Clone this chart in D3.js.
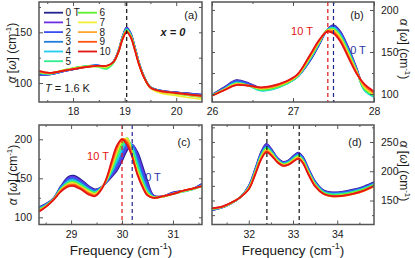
<!DOCTYPE html>
<html>
<head>
<meta charset="utf-8">
<script src="https://cdn.jsdelivr.net/npm/d3@7"></script>
<style>
body { margin: 0; background: #fff; }
svg text { font-family: "Liberation Sans", Arial, sans-serif; fill: #1a1a1a; }
</style>
</head>
<body>
<div id="chart"></div>
<script>

// fields (T) and their colours
var fields = ["0 T", "1", "2", "3", "4", "5", "6", "7", "8", "9", "10"];
var colors = ["#23238f", "#6b2fe6", "#3b4ff0", "#1f7ddc", "#22cdf0", "#2ef08e",
              "#5cf02a", "#eeee35", "#ffa62e", "#ff5412", "#e31414"];

// panel (a)
var freqA = [17.34, 17.55, 17.85, 18.15, 18.45, 18.65, 18.78, 18.88, 18.96, 19.04, 19.12, 19.2, 19.28, 19.38, 19.5, 19.7, 19.95, 20.2, 20.5];
var specA = [
  [108, 108.5, 112, 115, 117.5, 116.5, 121, 132, 146, 155, 149, 135, 120, 106, 96, 92.5, 91, 90, 88.5],
  [108.5, 108.5, 112, 115, 117.5, 116.5, 121, 132, 145.5, 154.5, 148.5, 135, 120, 106, 96, 92.5, 91, 90, 88.5],
  [109, 108.5, 112, 115.5, 117.5, 116, 121, 131.5, 145.5, 154, 148, 134.5, 119.5, 106, 96, 92.5, 91, 89.5, 88],
  [109.5, 109, 112.5, 115.5, 117.5, 115.5, 120.5, 131.5, 145, 153.5, 148, 134.5, 119.5, 106, 96, 92.5, 90.5, 89.5, 88],
  [110, 109, 112.5, 116, 117, 115, 120, 131, 145, 153, 147.5, 134, 119.5, 105.5, 96, 92, 90.5, 89, 87.5],
  [110, 109, 113, 116, 116.5, 114, 119.5, 131, 144.5, 152.5, 147, 134, 119, 105.5, 96, 91.5, 90, 88.5, 87],
  [110.5, 109.5, 113, 116, 116.5, 115, 120, 131, 144.5, 152, 146.5, 133.5, 119, 105.5, 95.5, 91, 89.5, 88, 86],
  [111, 109.5, 113, 115.5, 116.5, 116, 120.5, 131, 144, 151.5, 146, 133, 118.5, 105, 95, 90, 88, 86, 84],
  [111, 110, 112.5, 115.5, 117, 116.5, 120.5, 130.5, 143.5, 151, 145.5, 133, 118.5, 105, 95.5, 91.5, 90, 88.5, 86.5],
  [111.5, 110, 112.5, 115, 117, 117, 120.5, 130.5, 143.5, 150.5, 145, 132.5, 118, 105, 95.5, 92, 90.5, 89, 87],
  [112, 110, 112.5, 115, 117, 117, 120.5, 130.5, 143, 150.5, 145, 132, 118, 105, 95.5, 92, 90.5, 89, 87.5]
];

// panel (b)
var freqB = [26.0, 26.15, 26.3, 26.45, 26.6, 26.75, 26.9, 27.05, 27.2, 27.32, 27.42, 27.5, 27.58, 27.68, 27.78, 27.88, 28.0];
var specB = [
  [99, 108, 116.5, 113, 107, 107.5, 112, 120, 138, 158, 176, 182, 175, 156, 132, 107, 98.5],
  [99, 107.5, 116, 112.5, 106.5, 107, 112, 120, 138.5, 158.5, 176, 181, 174, 155, 131.5, 106.5, 98],
  [99, 107, 115.5, 112, 106, 106.5, 111.5, 120, 139, 159, 176, 180.5, 173, 154, 131, 106, 97.5],
  [98.5, 106.5, 114.5, 111, 105, 106, 111.5, 120, 139.5, 159.5, 176, 179.5, 172, 153, 130, 105, 97],
  [98.5, 106, 113.5, 110, 104, 105.5, 111, 120, 140, 160, 176, 179, 171, 152, 129.5, 104.5, 96.5],
  [98.5, 105.5, 113, 110, 104.5, 106, 111.5, 120.5, 141, 160.5, 176, 178, 170, 151, 129, 105.5, 97.5],
  [98.5, 105.5, 112.5, 110, 105.5, 107, 112, 121, 141.5, 161, 175.5, 177, 169, 150, 128.5, 106.5, 98.5],
  [98, 105, 112, 110, 106.5, 108, 113, 121.5, 142.5, 162, 175.5, 176, 167.5, 148.5, 128, 108, 99.5],
  [98, 105, 111.5, 110, 107, 108.5, 113.5, 122, 143.5, 162.5, 175, 175, 166, 147, 127, 109.5, 100.5],
  [98, 104.5, 111, 110, 107.5, 109, 114, 122.5, 144, 163, 174.5, 173.5, 164.5, 145.5, 126, 111, 101.5],
  [98, 104.5, 110.5, 110, 108, 110, 114.5, 123, 145, 164, 174, 172, 163, 144, 125, 112, 103]
];

// panel (c)
var freqC = [28.37, 28.5, 28.65, 28.8, 28.95, 29.05, 29.2, 29.35, 29.47, 29.6, 29.7, 29.8, 29.9, 30.0, 30.1, 30.2, 30.3, 30.4, 30.5, 30.62, 30.8, 31.0, 31.2, 31.4, 31.57];
var specC = [
  [113, 117, 124, 140, 152, 153.5, 148, 140, 136, 139, 145, 152, 160, 172, 186, 192.5, 184, 166, 146, 128, 127, 132, 134, 137, 143],
  [112.5, 116.5, 124, 139, 150.5, 152, 146.5, 139, 135, 139, 145.5, 153.5, 162.5, 175.5, 189, 193.5, 181, 162, 143, 127.5, 127, 131.5, 134, 137, 142.5],
  [112, 116, 123.5, 138.5, 149, 150.5, 145, 138, 134.5, 139, 146, 155, 165.5, 179, 192, 193, 177.5, 158, 140, 127, 126.5, 131, 133.5, 136.5, 142],
  [111.5, 115.5, 123.5, 138, 147.5, 149, 144, 137, 133.5, 138.5, 146.5, 156.5, 169, 183, 195, 192, 174, 154, 137, 126.5, 126.5, 130.5, 133.5, 136.5, 141.5],
  [111, 115.5, 123, 137, 146.5, 147.5, 142.5, 136, 132.5, 138.5, 147, 158.5, 172.5, 187, 198.5, 190, 170, 150, 134.5, 126, 126.5, 130.5, 133, 136, 141],
  [110.5, 115, 123, 136.5, 145, 146, 141.5, 135, 132, 138, 147.5, 160.5, 176.5, 191, 201, 187.5, 166, 147, 132.5, 126, 126.5, 130, 133, 136, 140.5],
  [110, 114.5, 123, 136, 144, 145, 140, 134, 131, 138, 148, 162.5, 180, 194.5, 201.5, 184.5, 163, 145, 131, 125.5, 126.5, 130, 133.5, 136.5, 140],
  [109, 114, 122.5, 135, 143, 144, 139, 133, 130, 137.5, 148.5, 165, 183.5, 197.5, 200.5, 181.5, 160, 143, 130, 125.5, 126.5, 130, 133.5, 136.5, 140],
  [108.5, 113.5, 122.5, 134.5, 142, 142.5, 138, 131.5, 129, 137.5, 149.5, 167.5, 186.5, 199.5, 198.5, 180, 157.5, 141.5, 129.5, 125, 126.5, 130, 134, 137, 140],
  [108, 113.5, 122, 134, 141, 141.5, 137, 130.5, 128, 137, 150, 170, 189.5, 200.5, 196, 178.5, 156, 140, 128.5, 125, 127, 130, 134, 137, 140],
  [107, 113, 122, 133, 139.5, 140, 135.5, 129, 127, 136, 151, 173, 192, 200, 193, 177, 155, 139, 128, 125, 127, 130, 134, 137, 140]
];

// panel (d)
var freqD = [31.17, 31.4, 31.6, 31.8, 32.0, 32.15, 32.28, 32.4, 32.52, 32.65, 32.78, 32.9, 33.02, 33.12, 33.22, 33.35, 33.5, 33.7, 33.9, 34.1, 34.35, 34.6, 34.83];
var specD = [
  [133, 138, 145, 155, 175, 205, 233, 247, 237, 223, 216, 219, 227, 232, 225, 205, 183, 167, 164, 165, 168.5, 174, 181.5],
  [133.5, 138, 145, 155, 174.5, 204, 231.5, 245.5, 236, 222, 215.5, 218, 226, 231, 224, 204, 182, 166, 163.5, 164, 167.5, 173, 180.5],
  [134, 138.5, 145, 155, 174, 203, 230.5, 244, 235, 221.5, 214.5, 217.5, 225, 230, 223, 203, 181, 165.5, 162.5, 163.5, 167, 172, 179.5],
  [134.5, 138.5, 145.5, 155, 173, 202, 229, 242.5, 233.5, 220.5, 214, 216.5, 224, 228.5, 221.5, 201.5, 180.5, 165, 162, 162.5, 166, 171.5, 179],
  [134.5, 138.5, 145.5, 155, 172.5, 201, 228, 241, 232.5, 220, 213, 216, 223, 227.5, 220.5, 200.5, 179.5, 164, 161, 162, 165, 170.5, 178],
  [135, 138.5, 145.5, 155, 172, 200, 226.5, 240, 231.5, 219, 212.5, 215, 222, 226.5, 219.5, 199.5, 178.5, 163.5, 160, 161, 164.5, 170, 177.5],
  [135.5, 139, 145.5, 155, 171.5, 199, 225, 238.5, 230.5, 218, 212, 214, 221, 225.5, 218.5, 198.5, 177.5, 163, 159, 160, 163.5, 169, 176.5],
  [136, 139, 145.5, 155, 171, 198, 224, 237, 229.5, 217.5, 211, 213.5, 220, 224.5, 217.5, 197.5, 176.5, 161.5, 157.5, 158.5, 162, 167.5, 175],
  [136, 139, 146, 155, 170, 197, 222.5, 235.5, 228, 216.5, 210.5, 212.5, 219, 223, 216, 196, 175.5, 160.5, 156.5, 157.5, 161, 166.5, 174],
  [136.5, 139.5, 146, 155, 169.5, 196, 221, 234, 227, 215.5, 209.5, 211.5, 218, 222, 215, 195, 175, 160.5, 157, 157.5, 161, 166.5, 174.5],
  [137, 139.5, 146, 155, 169, 195, 220, 232.5, 226, 215, 209, 211, 217, 221, 214, 194, 174, 161, 157.5, 158, 161.5, 167, 175]
];

// tick values
var xTicksA = [18, 19, 20], xMinorA = [17.5, 18.5, 19.5];
var yTicksA = [100, 150], yMinorA = [125, 175];
var xTicksB = [26, 27, 28], xMinorB = [26.5, 27.5];
var yTicksB = [100, 150, 200], yMinorB = [125, 175];
var xTicksC = [29, 30, 31], xMinorC = [28.5, 29.5, 30.5, 31.5];
var yTicksC = [100, 150, 200], yMinorC = [125, 175];
var xTicksD = [32, 33, 34], xMinorD = [31.5, 32.5, 33.5, 34.5];
var yTicksD = [150, 200, 250], yMinorD = [125, 175, 225, 275];

// marker lines (frequency, colour)
var marksA = [[19.04, "#111"]];
var marksB = [[27.43, "#e31414"], [27.5, "#23238f"]];
var marksC = [[30.0, "#e31414"], [30.2, "#23238f"]];
var marksD = [[32.41, "#111"], [33.14, "#111"]];

var w = 415, h = 258;
var frameColor = "#555";

var svg = d3.select("#chart").append("svg")
    .attr("width", w)
    .attr("height", h);

var panels = [
  {id: "a", freq: freqA, spec: specA, xd: [17.34, 20.5], yd: [81.3, 179.9], x0: 39, x1: 202, y0: 2, y1: 102,
   xt: xTicksA, xm: xMinorA, yt: yTicksA, ym: yMinorA, side: "left", marks: marksA},
  {id: "b", freq: freqB, spec: specB, xd: [26, 28], yd: [90.5, 209.5], x0: 212, x1: 374, y0: 2, y1: 102,
   xt: xTicksB, xm: xMinorB, yt: yTicksB, ym: yMinorB, side: "right", marks: marksB},
  {id: "c", freq: freqC, spec: specC, xd: [28.37, 31.57], yd: [90.8, 218.3], x0: 39, x1: 202, y0: 125, y1: 224.5,
   xt: xTicksC, xm: xMinorC, yt: yTicksC, ym: yMinorC, side: "left", marks: marksC},
  {id: "d", freq: freqD, spec: specD, xd: [31.17, 34.83], yd: [109, 279], x0: 212, x1: 374, y0: 125, y1: 224.5,
   xt: xTicksD, xm: xMinorD, yt: yTicksD, ym: yMinorD, side: "right", marks: marksD}
];

panels.forEach(function(p) {
  var x = d3.scaleLinear().domain(p.xd).range([p.x0, p.x1]);
  var y = d3.scaleLinear().domain(p.yd).range([p.y1, p.y0]);
  var g = svg.append("g").attr("class", "panel-" + p.id);

  svg.append("clipPath").attr("id", "clip-" + p.id)
    .append("rect")
      .attr("x", p.x0).attr("y", p.y0)
      .attr("width", p.x1 - p.x0).attr("height", p.y1 - p.y0);

  var line = d3.line()
      .x(function(d, i) { return x(p.freq[i]); })
      .y(function(d) { return y(d); })
      .curve(d3.curveCatmullRom.alpha(0.5));

  var curves = g.append("g").attr("clip-path", "url(#clip-" + p.id + ")");
  curves.selectAll("path")
    .data(p.spec)
    .enter()
    .append("path")
      .attr("d", line)
      .attr("fill", "none")
      .attr("stroke", function(d, i) { return colors[i]; })
      .attr("stroke-width", 1.7);

  // dashed marker lines
  g.selectAll("line.mark")
    .data(p.marks)
    .enter()
    .append("line")
      .attr("class", "mark")
      .attr("x1", function(d) { return x(d[0]); })
      .attr("x2", function(d) { return x(d[0]); })
      .attr("y1", p.y0)
      .attr("y2", p.y1)
      .attr("stroke", function(d) { return d[1]; })
      .attr("stroke-width", 1.2)
      .attr("stroke-dasharray", "4,3");

  // axes, ticks pointing inwards on all four sides
  function style(sel) {
    sel.select(".domain").remove();
    sel.selectAll("line").attr("stroke", frameColor).attr("stroke-width", 1);
    sel.selectAll("text").filter(function() { return this.textContent == ""; }).remove();
    sel.selectAll("text").attr("font-size", 10.5).attr("fill", "#1a1a1a")
      .attr("font-family", "Liberation Sans, Arial, sans-serif");
  }

  g.append("g").attr("transform", "translate(0," + p.y1 + ")")
    .call(d3.axisBottom(x).tickValues(p.xt).tickSize(-4).tickPadding(6).tickFormat(d3.format("d")))
    .call(style);
  g.append("g").attr("transform", "translate(0," + p.y1 + ")")
    .call(d3.axisBottom(x).tickValues(p.xm).tickSize(-2).tickFormat(""))
    .call(style);
  g.append("g").attr("transform", "translate(0," + p.y0 + ")")
    .call(d3.axisTop(x).tickValues(p.xt).tickSize(-4).tickFormat(""))
    .call(style);
  g.append("g").attr("transform", "translate(0," + p.y0 + ")")
    .call(d3.axisTop(x).tickValues(p.xm).tickSize(-2).tickFormat(""))
    .call(style);

  var labelled = p.side == "left" ? d3.axisLeft(y) : d3.axisRight(y);
  var lx = p.side == "left" ? p.x0 : p.x1;
  var ox = p.side == "left" ? p.x1 : p.x0;
  g.append("g").attr("transform", "translate(" + lx + ",0)")
    .call(labelled.tickValues(p.yt).tickSize(-4).tickPadding(7).tickFormat(d3.format("d")))
    .call(style);
  g.append("g").attr("transform", "translate(" + lx + ",0)")
    .call((p.side == "left" ? d3.axisLeft(y) : d3.axisRight(y)).tickValues(p.ym).tickSize(-2).tickFormat(""))
    .call(style);
  g.append("g").attr("transform", "translate(" + ox + ",0)")
    .call((p.side == "left" ? d3.axisRight(y) : d3.axisLeft(y)).tickValues(p.yt.concat(p.ym)).tickSize(-3).tickFormat(""))
    .call(style);

  g.append("rect")
    .attr("x", p.x0).attr("y", p.y0)
    .attr("width", p.x1 - p.x0).attr("height", p.y1 - p.y0)
    .attr("fill", "none")
    .attr("stroke", frameColor)
    .attr("stroke-width", 1.5);
});

// y axis titles
function alphaTitle(xpos, ypos, rot) {
  var t = svg.append("text")
    .attr("transform", "translate(" + xpos + "," + ypos + ") rotate(" + rot + ")")
    .attr("text-anchor", "middle")
    .attr("font-size", 12);
  t.append("tspan").attr("font-style", "italic").text("α");
  t.append("tspan").text(" [");
  t.append("tspan").attr("font-style", "italic").text("ω");
  t.append("tspan").text("] (cm");
  t.append("tspan").attr("font-size", 8).attr("dy", -5).text("-1");
  t.append("tspan").attr("dy", 5).text(")");
}
alphaTitle(16, 53, -90);
alphaTitle(17, 175, -90);
alphaTitle(400, 49, 90);
alphaTitle(400, 171, 90);

// x axis titles
function freqTitle(xpos) {
  var t = svg.append("text")
    .attr("x", xpos).attr("y", 255)
    .attr("text-anchor", "middle")
    .attr("font-size", 13.5);
  t.append("tspan").text("Frequency (cm");
  t.append("tspan").attr("font-size", 9).attr("dy", -6).text("-1");
  t.append("tspan").attr("dy", 6).text(")");
}
freqTitle(121);
freqTitle(293);

// panel letters and notes
var notes = [
  ["(a)", 191, 19, "#1a1a1a"], ["(b)", 357, 19, "#1a1a1a"],
  ["(c)", 184, 146, "#1a1a1a"], ["(d)", 355, 146, "#1a1a1a"],
  ["10 T", 302, 35, "#e31414"], ["0 T", 358, 54, "#2a35a8"],
  ["10 T", 98, 160, "#e31414"], ["0 T", 153, 181, "#2a35a8"]
];
svg.selectAll("text.note")
  .data(notes)
  .enter()
  .append("text")
    .attr("class", "note")
    .attr("x", function(d) { return d[1]; })
    .attr("y", function(d) { return d[2]; })
    .attr("text-anchor", "middle")
    .attr("font-size", 11)
    .style("fill", function(d) { return d[3]; })
    .text(function(d) { return d[0]; });

svg.append("text")
  .attr("x", 173).attr("y", 36)
  .attr("text-anchor", "middle")
  .attr("font-size", 11)
  .attr("font-weight", "bold")
  .attr("font-style", "italic")
  .text("x = 0");

var tl = svg.append("text").attr("x", 45).attr("y", 92).attr("font-size", 11);
tl.append("tspan").attr("font-style", "italic").text("T");
tl.append("tspan").text(" = 1.6 K");

// legend
var leg = svg.append("g").attr("class", "legend");
var rows = leg.selectAll("g")
  .data(fields)
  .enter()
  .append("g")
    .attr("transform", function(d, i) {
      var col = i < 6 ? 0 : 1;
      var row = i < 6 ? i : i - 6;
      return "translate(" + (44 + col * 34) + "," + (12.7 + row * 9.7) + ")";
    });
rows.append("line")
  .attr("x1", 0).attr("x2", 19)
  .attr("stroke", function(d, i) { return colors[i]; })
  .attr("stroke-width", 1.8);
rows.append("text")
  .attr("x", 21.5)
  .attr("dy", "0.35em")
  .attr("font-size", 10)
  .text(function(d) { return d; });

</script>
</body>
</html>
